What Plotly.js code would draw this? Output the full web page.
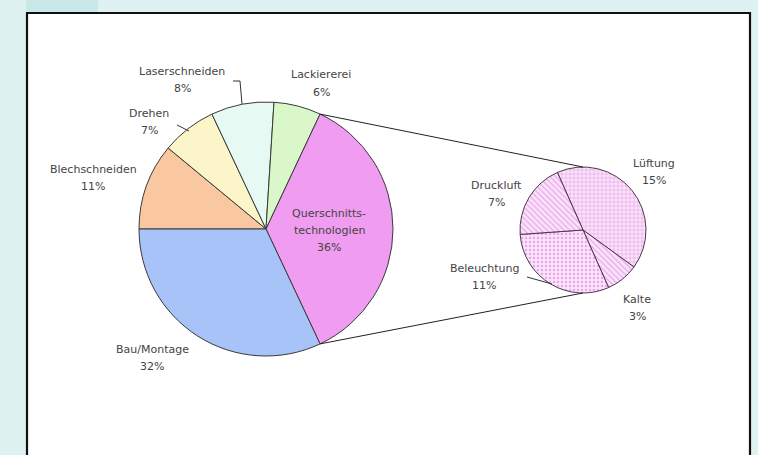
<!DOCTYPE html>
<html>
<head>
<meta charset="utf-8">
<script src="https://cdn.plot.ly/plotly-3.0.1.min.js"></script>
<style>
  html, body { margin: 0; padding: 0; background: #dff2f2; }
  #chart { width: 758px; height: 455px; }
</style>
</head>
<body>
<div id="chart"></div>
<script>
// ---- data ----
const mainLabels = ['Blechschneiden', 'Drehen', 'Laserschneiden', 'Lackiererei', 'Querschnitts-<br>technologien', 'Bau/Montage'];
const mainValues = [11, 7, 8, 6, 36, 32];
const mainColors = ['#f9c7a0', '#fcf5c9', '#e6faf3', '#d9f7c9', '#f09cf0', '#a7c3f7'];

const subLabels = ['Lüftung', 'Kalte', 'Beleuchtung', 'Druckluft'];
const subValues = [15, 3, 11, 7];
const subPatterns = ['+', '\\', '.', '\\'];

// index of the main slice that is broken out into the second pie
const explodedIndex = 4;

// ---- layout geometry (pixels) ----
const W = 758, H = 455;
const px = x => x / W;
const py = y => 1 - y / H;

const mainC = [266, 229], mainR = 127, mainRot = 270;
const subC = [583, 230], subR = 63, subRot = 336;

// label placements (pixel centre of first line)
const mainLabelPos = [[93, 169], [149, 113], [182, 71], [321, 75], [329, 213], [152, 349]];
const subLabelPos = [[654, 163], [637, 299], [484, 268], [496, 185]];
const lineGap = 17.5;

const font = {family: 'DejaVu Sans, sans-serif', size: 11, color: '#444444'};

const traces = [
  {
    type: 'pie',
    labels: mainLabels,
    values: mainValues,
    sort: false,
    direction: 'clockwise',
    rotation: mainRot,
    textinfo: 'none',
    hoverinfo: 'label+percent',
    marker: {colors: mainColors, line: {color: '#3a3a3a', width: 1}},
    domain: {x: [px(mainC[0] - mainR), px(mainC[0] + mainR)], y: [py(mainC[1] + mainR), py(mainC[1] - mainR)]},
    showlegend: false
  },
  {
    type: 'pie',
    labels: subLabels,
    values: subValues,
    sort: false,
    direction: 'clockwise',
    rotation: subRot,
    textinfo: 'none',
    hoverinfo: 'label+value',
    marker: {
      colors: subLabels.map(() => '#f9dcf9'),
      pattern: {shape: subPatterns, fgcolor: '#eaa6ea', bgcolor: '#fbe4fb', size: 4, solidity: 0.3},
      line: {color: '#4a3a4a', width: 1}
    },
    domain: {x: [px(subC[0] - subR), px(subC[0] + subR)], y: [py(subC[1] + subR), py(subC[1] - subR)]},
    showlegend: false
  }
];

// ---- connector lines derived from slice angles ----
const total = mainValues.reduce((a, b) => a + b, 0);
const before = mainValues.slice(0, explodedIndex).reduce((a, b) => a + b, 0);
const a0 = (mainRot + before / total * 360) * Math.PI / 180;
const a1 = (mainRot + (before + mainValues[explodedIndex]) / total * 360) * Math.PI / 180;
const onMain = a => [mainC[0] + mainR * Math.sin(a), mainC[1] - mainR * Math.cos(a)];
const p0 = onMain(a0), p1 = onMain(a1);

const shapes = [
  // page frame
  {type: 'rect', xref: 'paper', yref: 'paper', x0: px(26), x1: px(98), y0: py(12), y1: py(0), fillcolor: '#c8e8ea', line: {width: 0}, layer: 'below'},
  {type: 'rect', xref: 'paper', yref: 'paper', x0: px(27), x1: px(750), y0: py(470), y1: py(13), fillcolor: '#ffffff', line: {color: '#111111', width: 2.2}, layer: 'below'},
  // connectors
  {type: 'line', xref: 'paper', yref: 'paper', x0: px(p0[0]), y0: py(p0[1]), x1: px(subC[0]), y1: py(subC[1] - subR), line: {color: '#222222', width: 1}},
  {type: 'line', xref: 'paper', yref: 'paper', x0: px(p1[0]), y0: py(p1[1]), x1: px(subC[0]), y1: py(subC[1] + subR), line: {color: '#222222', width: 1}},
  // leader lines
  {type: 'path', xref: 'paper', yref: 'paper', path: `M${px(233)},${py(81)} L${px(240)},${py(81)} L${px(242)},${py(104)}`, line: {color: '#333333', width: 1}},
  {type: 'line', xref: 'paper', yref: 'paper', x0: px(177), y0: py(125), x1: px(189), y1: py(131), line: {color: '#333333', width: 1}},
  {type: 'line', xref: 'paper', yref: 'paper', x0: px(527), y0: py(277), x1: px(552), y1: py(284), line: {color: '#333333', width: 1}}
];

// ---- labels ----
const annotations = [];
function addLabel(name, value, pos) {
  const lines = name.split('<br>').concat([value + '%']);
  lines.forEach((t, i) => {
    annotations.push({
      xref: 'paper', yref: 'paper', x: px(pos[0]), y: py(pos[1] + i * lineGap),
      text: t, showarrow: false, xanchor: 'center', yanchor: 'middle', font: font
    });
  });
}
mainLabels.forEach((l, i) => addLabel(l, mainValues[i], mainLabelPos[i]));
subLabels.forEach((l, i) => addLabel(l, subValues[i], subLabelPos[i]));

const layout = {
  width: W, height: H,
  margin: {l: 0, r: 0, t: 0, b: 0},
  paper_bgcolor: '#dff2f2',
  plot_bgcolor: '#dff2f2',
  showlegend: false,
  shapes: shapes,
  annotations: annotations
};

Plotly.newPlot('chart', traces, layout, {displayModeBar: false, staticPlot: true});
</script>
</body>
</html>
